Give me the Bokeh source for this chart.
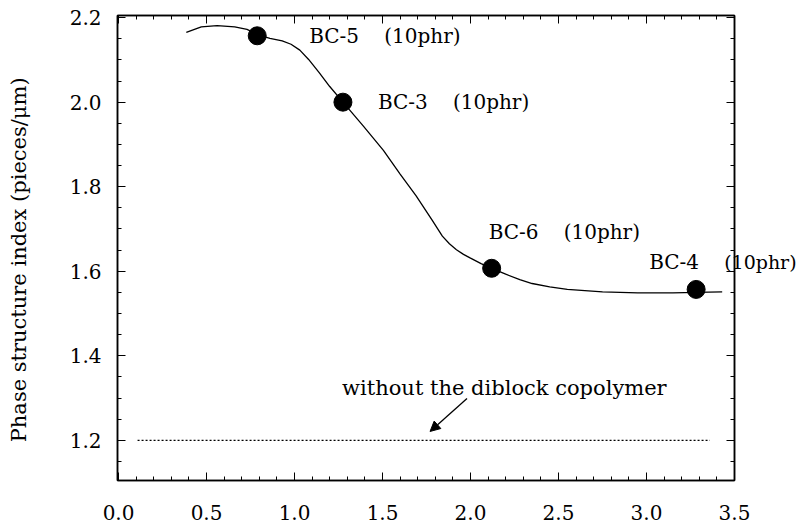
import math
from bokeh.plotting import figure
from bokeh.models import (Range1d, LinearAxis, SingleIntervalTicker, NumeralTickFormatter,
                          Label, Arrow, NormalHead)
from bokeh.embed import file_html
from bokeh.resources import INLINE

# ---- data ----
sample_names = ["BC-5", "BC-3", "BC-6", "BC-4"]
sample_amount = ["(10phr)", "(10phr)", "(10phr)", "(10phr)"]
sample_x = [0.788, 1.275, 2.12, 3.282]
sample_y = [2.157, 2.000, 1.607, 1.557]

curve_x = [0.385, 0.47, 0.56, 0.66, 0.73, 0.79, 0.86, 0.93, 0.98, 1.03, 1.08, 1.14, 1.20,
           1.275, 1.39, 1.505, 1.60, 1.69, 1.78, 1.84, 1.88, 1.92, 1.96, 2.00, 2.06, 2.12,
           2.20, 2.28, 2.35, 2.45, 2.55, 2.75, 2.95, 3.15, 3.28, 3.43]
curve_y = [2.165, 2.178, 2.181, 2.178, 2.172, 2.160, 2.151, 2.145, 2.137, 2.123, 2.101, 2.070,
           2.037, 2.000, 1.944, 1.886, 1.830, 1.779, 1.722, 1.683, 1.665, 1.651, 1.640, 1.631,
           1.618, 1.607, 1.593, 1.580, 1.571, 1.563, 1.557, 1.551, 1.549, 1.549, 1.550, 1.551]

baseline_x = [0.108, 3.36]
baseline_y = [1.2, 1.2]
baseline_text = "without the diblock copolymer"

y_title = "Phase structure index (pieces/\u03bcm)"
x_ticks_interval = 0.5
y_ticks_interval = 0.2

FONT = "DejaVu Serif"
FS = "20px"
W, H = 806, 527

p = figure(width=W, height=H, output_backend="svg", toolbar_location=None,
           x_range=Range1d(-0.006, 3.5), y_range=Range1d(1.105, 2.205),
           min_border_left=117, min_border_right=71, min_border_top=15, min_border_bottom=47,
           x_axis_type=None, y_axis_type=None)
p.grid.visible = False
p.outline_line_color = "black"
p.outline_line_width = 1.5
p.background_fill_color = "white"
p.border_fill_color = "white"

xt = SingleIntervalTicker(interval=x_ticks_interval, num_minor_ticks=5)
yt = SingleIntervalTicker(interval=y_ticks_interval, num_minor_ticks=4)


def style_axis(ax, show_labels, standoff):
    ax.axis_line_color = "black"
    ax.axis_line_width = 1.5
    ax.major_tick_in = 8
    ax.major_tick_out = 0
    ax.minor_tick_in = 4
    ax.minor_tick_out = 0
    ax.major_tick_line_color = "black"
    ax.minor_tick_line_color = "black"
    ax.major_tick_line_width = 1
    ax.minor_tick_line_width = 1
    ax.axis_label = None
    ax.axis_label_standoff = 0
    ax.formatter = NumeralTickFormatter(format="0.0")
    if show_labels:
        ax.major_label_text_font = FONT
        ax.major_label_text_font_size = FS
        ax.major_label_text_color = "black"
        ax.major_label_standoff = standoff
    else:
        ax.major_label_text_font_size = "0px"
        ax.major_label_text_color = None
        ax.major_label_standoff = 0


bottom = LinearAxis(ticker=xt)
style_axis(bottom, True, 24)
bottom.major_label_text_line_height = 0.8
p.add_layout(bottom, "below")
left = LinearAxis(ticker=yt)
style_axis(left, True, 16)
p.add_layout(left, "left")
top = LinearAxis(ticker=xt)
style_axis(top, False, 0)
p.add_layout(top, "above")
right = LinearAxis(ticker=yt)
style_axis(right, False, 0)
p.add_layout(right, "right")

# fitted curve
p.line(curve_x, curve_y, line_color="black", line_width=1.3)

# reference (no copolymer) dotted line
p.line(baseline_x, baseline_y, line_color="black", line_width=1.2, line_dash="2 2")

# sample points
p.scatter(sample_x, sample_y, size=18, fill_color="black", line_color="black")

# labels: offsets in screen px from each point
name_dx = [52, 35, -3, -47]
name_dy = [0, 0, 36, 27]
for i, (xv, yv, nm, am, dx, dy) in enumerate(zip(sample_x, sample_y, sample_names,
                                                   sample_amount, name_dx, name_dy)):
    p.add_layout(Label(x=xv, y=yv, x_offset=dx, y_offset=dy, text=nm, text_font=FONT,
                       text_font_size=FS, text_color="black", text_baseline="middle",
                       text_align="left"))
    last = (i == len(sample_x) - 1)
    lab = Label(x=xv, y=yv, x_offset=dx + 75, y_offset=dy, text=am, text_font=FONT,
                text_font_size="19px" if last else FS, text_color="black",
                text_baseline="middle", text_align="left")
    # the last label runs past the frame edge: put it in a side panel so it is not clipped
    p.add_layout(lab, "right" if last else "center")

# annotation text + arrow
p.add_layout(Label(x=1.27, y=1.325, text=baseline_text, text_font=FONT, text_font_size="21px",
                   text_color="black", text_baseline="alphabetic", text_align="left"))
p.add_layout(Arrow(x_start=1.98, y_start=1.299, x_end=1.77, y_end=1.221,
                   line_color="black", line_width=1.3,
                   end=NormalHead(size=10, fill_color="black", line_color="black", line_width=1)))

# y-axis title, in the left panel (outside the frame)
p.add_layout(Label(x=-0.564, y=1.627, text=y_title, angle=math.pi / 2,
                   text_font=FONT, text_font_size="21px", text_color="black",
                   text_align="center", text_baseline="middle"), "left")

open("out.html", "w").write(file_html(p, INLINE))
